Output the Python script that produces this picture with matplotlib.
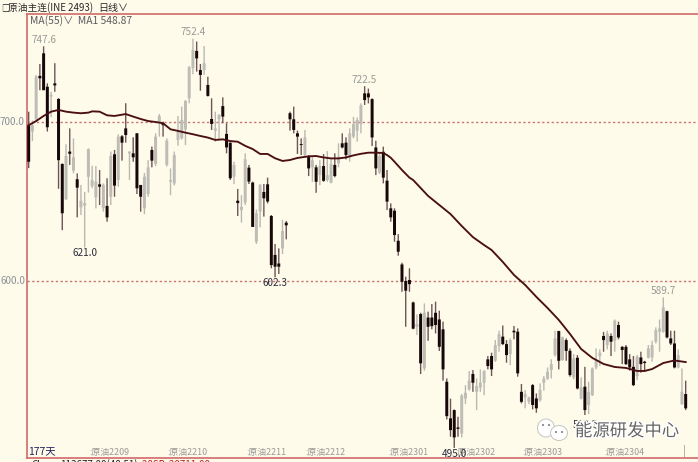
import matplotlib

matplotlib.use("Agg")
import matplotlib.patheffects as path_effects
import matplotlib.pyplot as plt
from matplotlib.patches import Ellipse

plt.rcParams["font.family"] = ["Noto Sans CJK SC", "DejaVu Sans"]

# one row per ten daily candles
highs = [
    706.5, 701, 729.6, 736.5, 747.6, 724.3, 719, 737, 715, 674,
    686, 696, 689.7, 667.7, 660.4, 656, 683.4, 672.5, 672.3, 669.8,
    661.4, 664.6, 681.4, 682.4, 692.3, 691.8, 711.8, 681.4, 690.4, 692.9,
    660.4, 668, 676, 684.5, 692.9, 705, 700.2, 689.7, 670.8, 681.4,
    703.8, 709.7, 713.9, 735.2, 752.4, 750.6, 736.5, 747.8, 728.5, 714.9,
    706.5, 705, 715.5, 699.2, 687, 675, 657.9, 654, 680.3, 673,
    662.5, 645, 661, 661, 665, 641.5, 623.3, 620.5, 638.4, 637.7,
    706.5, 709.7, 694.6, 689.7, 695, 679.2, 677.8, 673, 676, 679.8,
    681.7, 677, 680.3, 686.6, 692.9, 690.3, 696, 703.3, 702.9, 711.7,
    722.5, 721, 714.9, 688.2, 679.8, 684.5, 669.8, 648.8, 645.7, 629.5,
    611.5, 602.7, 608, 587, 579, 580, 585.9, 580.7, 585.5, 587,
    581.3, 574.4, 538.7, 526, 519.2, 514.6, 528.9, 534.5, 543.3, 544,
    538.7, 544.4, 544, 552.8, 554.9, 562.8, 568.7, 572, 562.8, 563.9,
    571.7, 570.2, 535.2, 531.4, 527.2, 535.2, 529.3, 535.6, 540.2, 545.6,
    550.7, 568.7, 568.7, 565, 563.9, 557.6, 554, 553.4, 539.4, 546,
    536.6, 545.6, 557.6, 557, 568, 568.7, 567, 575.8, 574.4, 559,
    559.7, 554, 552.8, 553.4, 555.5, 549.8, 559.7, 562.4, 570.8, 575.8,
    589.7, 581.3, 568.7, 568.7, 557, 545, 537.3,
]
body_tops = [
    698, 698, 728.5, 729, 743.2, 722.2, 717, 724.3, 714.5, 673.6,
    678.6, 681.4, 677.8, 664, 650.5, 649, 683, 663.5, 662.5, 660.8,
    660.4, 647.2, 678.6, 679.7, 690.8, 691, 696, 681.4, 680.3, 692.9,
    660.4, 665.6, 671.5, 682.4, 690.8, 703.8, 699.2, 688.3, 663.5, 679.3,
    694, 701.3, 713.2, 734.4, 745.3, 744.7, 732.7, 737, 723.3, 701.9,
    696, 704.4, 710, 692.5, 687, 673, 650.5, 646.7, 676.5, 671.3,
    661.9, 642.6, 660.4, 656, 660.8, 640.9, 616.4, 611, 631.4, 636.7,
    705.5, 701.7, 692.9, 686.1, 690.3, 678.6, 676, 671.5, 672.3, 672.3,
    666.6, 673.6, 673, 678.2, 686.6, 687, 692.9, 698.7, 701.2, 710.5,
    718, 718, 714.4, 684, 678.6, 681.3, 663.1, 645.7, 644.2, 625.3,
    610.4, 600, 600.6, 586.5, 572.9, 579.2, 580, 577, 577, 580,
    575.8, 569.6, 536.6, 513.6, 518.8, 507.9, 528, 529.7, 537.3, 541.5,
    533.9, 536, 543.3, 550.7, 552.8, 559.7, 566.6, 565, 560.3, 562.8,
    568.7, 568.1, 530.3, 528.9, 526.8, 534.5, 526.1, 531.4, 538.7, 542.9,
    547.7, 563.9, 568.5, 564.5, 562.8, 556.1, 551.3, 551.7, 533, 533.5,
    530.3, 545, 549.8, 554.9, 565.4, 567, 565.4, 575, 572.3, 558.6,
    558.6, 550.7, 546, 552.4, 551.9, 549.2, 557.6, 559.7, 569.1, 570.2,
    583.4, 581, 563.9, 560.7, 553.4, 530.3, 528.9,
]
body_bottoms = [
    675, 694, 701.7, 727.5, 720, 696.7, 716, 723, 676, 642.6,
    651.4, 680, 669.4, 658.7, 646.3, 647.4, 665.6, 659.7, 652.6, 659.3,
    645.7, 640, 653, 660, 663.5, 687, 691.8, 680.3, 677.8, 658.3,
    653, 645.7, 654.7, 675.7, 673.6, 699.6, 698, 673, 662.5, 661.4,
    688.7, 689.7, 695.4, 714.9, 733.8, 740, 729.6, 732.7, 716.4, 698.8,
    694.5, 701.7, 703.4, 684, 664.6, 665.6, 649, 644.6, 649.3, 662.5,
    634, 624.7, 643.6, 652, 650, 610, 609, 609, 620.5, 635,
    701.7, 695, 690.8, 685.5, 679.2, 670.8, 671.5, 662.4, 666.6, 663,
    663.5, 661.8, 666, 674, 684, 679.2, 678.6, 690.8, 694.5, 698.7,
    713.8, 715.5, 690.3, 670.8, 668.1, 665, 649.9, 640, 628.9, 618.4,
    599.5, 593.9, 598, 570, 571.2, 548.2, 545, 571.2, 571.6, 572.3,
    558.6, 544.4, 515, 506.2, 501.6, 507, 504.1, 526.1, 531.8, 536,
    530.3, 533, 536, 546.5, 544.4, 549.8, 559, 560.3, 553.4, 554,
    567.7, 541.9, 524, 526.8, 524, 522, 519.9, 525, 536, 538.7,
    544, 553.4, 549.8, 550.3, 556, 540.8, 539.4, 532.4, 526.1, 518.8,
    522, 528.2, 545.6, 552.8, 562.8, 559.7, 561.8, 562.4, 564.5, 556.6,
    547.7, 545.6, 534.5, 540.2, 547.7, 548.4, 551.7, 551.9, 561.8, 568,
    568, 564.5, 560.7, 545.6, 545.6, 522.6, 519.9,
]
lows = [
    671, 688, 700, 720, 720, 694, 703, 719, 658, 632,
    651, 673, 667.7, 640, 641.5, 621, 655.6, 658.3, 645.7, 647.8,
    643.6, 637.3, 647.8, 653, 659.3, 675.7, 687, 663.5, 675, 654.7,
    643.6, 642, 653, 671.5, 672.3, 690.8, 690.8, 672, 654, 660,
    685, 689, 685.5, 711.8, 730, 731.7, 719.7, 729.6, 716, 695,
    687.6, 688.7, 699.2, 680.3, 663.5, 661, 640.9, 636.7, 647.8, 661,
    634, 623.3, 633.7, 640.5, 648.8, 608, 602.3, 604.4, 617, 626.2,
    694.6, 692.9, 679.9, 679.2, 678.6, 666, 662.4, 655.5, 660.3, 662.4,
    662.4, 661.4, 665.2, 671.5, 683.4, 676.5, 675, 689.7, 687.6, 692.9,
    710.7, 711.7, 684.9, 666.6, 667.3, 661.4, 644.6, 637.3, 624.7, 615.9,
    593.2, 571.2, 593.2, 569.6, 566, 541.5, 543.6, 562.4, 569.6, 567,
    556, 537.3, 512.9, 502, 495.0, 502, 501.6, 522.6, 531, 530.3,
    518.8, 530.3, 528.2, 544.4, 540.2, 549.2, 555.5, 559.7, 548.6, 547.1,
    563.3, 539.8, 523, 519.9, 522.6, 519.2, 517.1, 524, 531, 537.7,
    538.7, 552.4, 544.4, 549.8, 549.8, 539.8, 538.1, 531.8, 525.5, 515.7,
    516.3, 527.6, 544.4, 546.5, 555.5, 557, 552.8, 555.5, 563.3, 547.7,
    547.1, 543.6, 533.9, 537.7, 542.3, 542.9, 551.3, 549.2, 560.7, 555.5,
    567.5, 563.9, 559.7, 545, 545, 522, 518.8,
]
# 1 = falling day (dark candle), 0 = rising day (grey candle)
falling = [
    1, 0, 0, 1, 1, 1, 0, 1, 1, 1,
    0, 1, 0, 1, 0, 0, 0, 0, 0, 1,
    0, 1, 0, 1, 0, 1, 1, 0, 1, 1,
    1, 0, 0, 1, 0, 0, 1, 0, 0, 0,
    0, 0, 0, 0, 0, 1, 1, 0, 1, 1,
    0, 0, 1, 1, 1, 0, 1, 0, 0, 1,
    1, 0, 0, 1, 1, 1, 1, 1, 0, 1,
    1, 1, 1, 1, 0, 1, 0, 1, 0, 1,
    0, 0, 1, 0, 1, 1, 0, 0, 0, 0,
    1, 1, 1, 1, 0, 1, 1, 1, 1, 1,
    1, 1, 1, 1, 0, 1, 0, 1, 1, 1,
    1, 1, 1, 1, 1, 1, 0, 0, 0, 1,
    0, 0, 0, 1, 1, 0, 0, 1, 1, 0,
    1, 1, 1, 0, 0, 1, 1, 0, 0, 0,
    0, 0, 1, 0, 1, 1, 0, 1, 0, 1,
    0, 0, 0, 0, 1, 0, 1, 0, 1, 1,
    1, 1, 1, 0, 1, 1, 0, 0, 0, 0,
    0, 1, 1, 1, 0, 0, 1,
]

ma_days = [
    0, 2, 4, 6, 8, 10, 12, 14, 16, 17, 19, 21, 23, 25, 26, 28, 30, 32, 34, 36,
    38, 40, 42, 44, 46, 48, 50, 52, 54, 56, 58, 60, 62, 64, 66, 68, 70, 72, 75, 77,
    79, 81, 83, 85, 87, 89, 91, 93, 95, 96, 97, 98, 100, 102, 103, 105, 107, 110, 113, 116,
    119, 122, 124, 127, 130, 133, 136, 139, 142, 145, 148, 151, 154, 157, 160, 163, 165, 167, 170, 173,
    176,
]
ma_values = [
    698, 700.6, 703.8, 706.5, 707.6, 706.5, 705.9, 705.5, 705.9, 706.7, 706.5, 704.2, 703.8, 704.6, 705, 703.4, 701.9, 700.6, 700, 699.2,
    695.4, 694.4, 693.3, 692.3, 691.2, 690.2, 688.7, 689.1, 688, 687.6, 685, 683, 679.9, 679.9, 677.2, 675.5, 676.1, 677.4, 678.4, 678.6,
    677.7, 677.1, 677.1, 677.7, 679, 680, 680.7, 680.7, 680.5, 679.2, 677.5, 675, 669.8, 665, 663.5, 658.5, 653.5, 647.8, 642.1, 634.6,
    627.6, 622.6, 619.5, 612, 603.8, 597.5, 590, 583, 575.5, 566.7, 557.2, 551.6, 547.8, 545.9, 545.3, 543.4, 543.4, 544.6, 548.4, 550,
    549,
]

grid_prices = [700, 600]
grid_labels = ["700.0", "600.0"]
month_days = [17, 38, 59, 75, 97, 115, 133, 155]
month_labels = ["原油2209", "原油2210", "原油2211", "原油2212", "原油2301", "原油2302", "原油2303", "原油2304"]
peak_days = [4, 44, 90, 170]
peak_values = [747.6, 752.4, 722.5, 589.7]
trough_days = [15, 66, 114, 149]
trough_values = [621.0, 602.3, 495.0, 513.2]

W, H = 698, 462
BG = "#FFFBEB"
RED = "#CF6A6A"


def put_text(fig, x, y, s, **kwargs):
    """Place text using pixel positions measured from the top left."""
    kwargs.setdefault("va", "center")
    return fig.text(x / W, 1 - y / H, s, **kwargs)


def put_ellipse(fig, x, y, rx, ry, **kwargs):
    """Add an ellipse using pixel positions measured from the top left."""
    patch = Ellipse((x / W, 1 - y / H), 2 * rx / W, 2 * ry / H, transform=fig.transFigure, **kwargs)
    fig.add_artist(patch)


def draw_candles(ax):
    for day in range(len(highs)):
        if falling[day]:
            wick, body = "#6E5555", "#160808"
        else:
            wick, body = "#B9B9B1", "#BDBDB5"
        ax.plot([day, day], [lows[day], highs[day]], color=wick, linewidth=1.0, zorder=2,
                solid_capstyle="butt", snap=False)
        ax.bar(day, body_tops[day] - body_bottoms[day], bottom=body_bottoms[day], width=0.8,
               color=body, linewidth=0, zorder=3, snap=False)


def main():
    fig = plt.figure(figsize=(W / 100, H / 100), dpi=100, facecolor=BG)
    ax = fig.add_axes([27 / W, 1 - 458 / H, (W - 27) / W, (458 - 14.5) / H])
    ax.set_facecolor(BG)
    ax.set_xlim(-0.45, 179.3)
    ax.set_ylim(700 - (458 - 122) * 0.629, 700 + (122 - 14.5) * 0.629)

    ax.spines["right"].set_visible(False)
    for spine in ["left", "top", "bottom"]:
        ax.spines[spine].set_color(RED)
        ax.spines[spine].set_linewidth(1.2)
    ax.set_xticks([])
    ax.set_yticks([])

    for price in grid_prices:
        ax.axhline(price, color="#C9726F", linewidth=1.0, linestyle=(0, (1.6, 1.8)), zorder=1)

    draw_candles(ax)
    ax.plot(ma_days, ma_values, color="#4A0F12", linewidth=1.35, zorder=4)

    # price axis labels
    for price, label in zip(grid_prices, grid_labels):
        ax.annotate(label, (0, price), xycoords=("axes fraction", "data"), xytext=(-1.5, 0),
                    textcoords="offset points", ha="right", va="center", fontsize=7.2,
                    color="#8B9298", annotation_clip=False)

    # highest and lowest marks
    for day, value in zip(peak_days, peak_values):
        ax.annotate(f"{value:.1f}", (day, value), xytext=(0, 1), textcoords="offset points",
                    ha="center", va="bottom", fontsize=7.2, color="#9A9A96")
    for day, value in zip(trough_days, trough_values):
        ax.annotate(f"{value:.1f}", (day, value), xytext=(0, -0.5), textcoords="offset points",
                    ha="center", va="top", fontsize=7.2, color="#2B2B3A", zorder=5)

    # month marks along the bottom
    for day, label in zip(month_days, month_labels):
        ax.annotate(":" + label, (day, 0), xycoords=("data", "axes fraction"), xytext=(-2, 1),
                    textcoords="offset points", ha="left", va="bottom", fontsize=6.4, color="#9A9A96")
    ax.annotate("|", (175.5, 0), xycoords=("data", "axes fraction"), xytext=(0, 1),
                textcoords="offset points", ha="center", va="bottom", fontsize=7, color="#8A8A86")

    # header strip and status text
    put_text(fig, 1, 8, "□", fontsize=6, color="#222222")
    put_text(fig, 8, 8, "原油主连(INE 2493)", fontsize=7, color="#2A2A2A")
    put_text(fig, 98, 8, "日线∨", fontsize=7.2, color="#2A2A2A")
    put_text(fig, 30, 20.5, "MA(55)∨  MA1 548.87", fontsize=7.4, color="#5A5A60")
    put_text(fig, 28, 451, "177天", fontsize=7.5, color="#20205A")
    put_text(fig, 31, 465, "Ch", fontsize=7, color="#222222")
    put_text(fig, 60, 465, "113677.00(48.51)", fontsize=7, color="#222222")
    put_text(fig, 142, 465, "28SP  20711.00", fontsize=7, color="#C02020")

    # watermark
    for cx, cy, rx, ry in [(546, 428, 8.5, 9), (559, 433, 8.5, 7.5)]:
        put_ellipse(fig, cx, cy, rx, ry, facecolor="white", edgecolor="#C4C4C4", linewidth=0.7, zorder=6)
    for cx, cy in [(543, 425), (549, 425), (556, 432), (562, 432)]:
        put_ellipse(fig, cx, cy, 1.1, 1.1, facecolor="#8A8A8A", edgecolor="none", zorder=7)
    mark = put_text(fig, 575, 431, "能源研发中心", fontsize=12.5, color="#666666", zorder=7)
    mark.set_path_effects([path_effects.withStroke(linewidth=2, foreground="white")])

    fig.savefig("out.png", dpi=100, facecolor=BG)


if __name__ == "__main__":
    main()
